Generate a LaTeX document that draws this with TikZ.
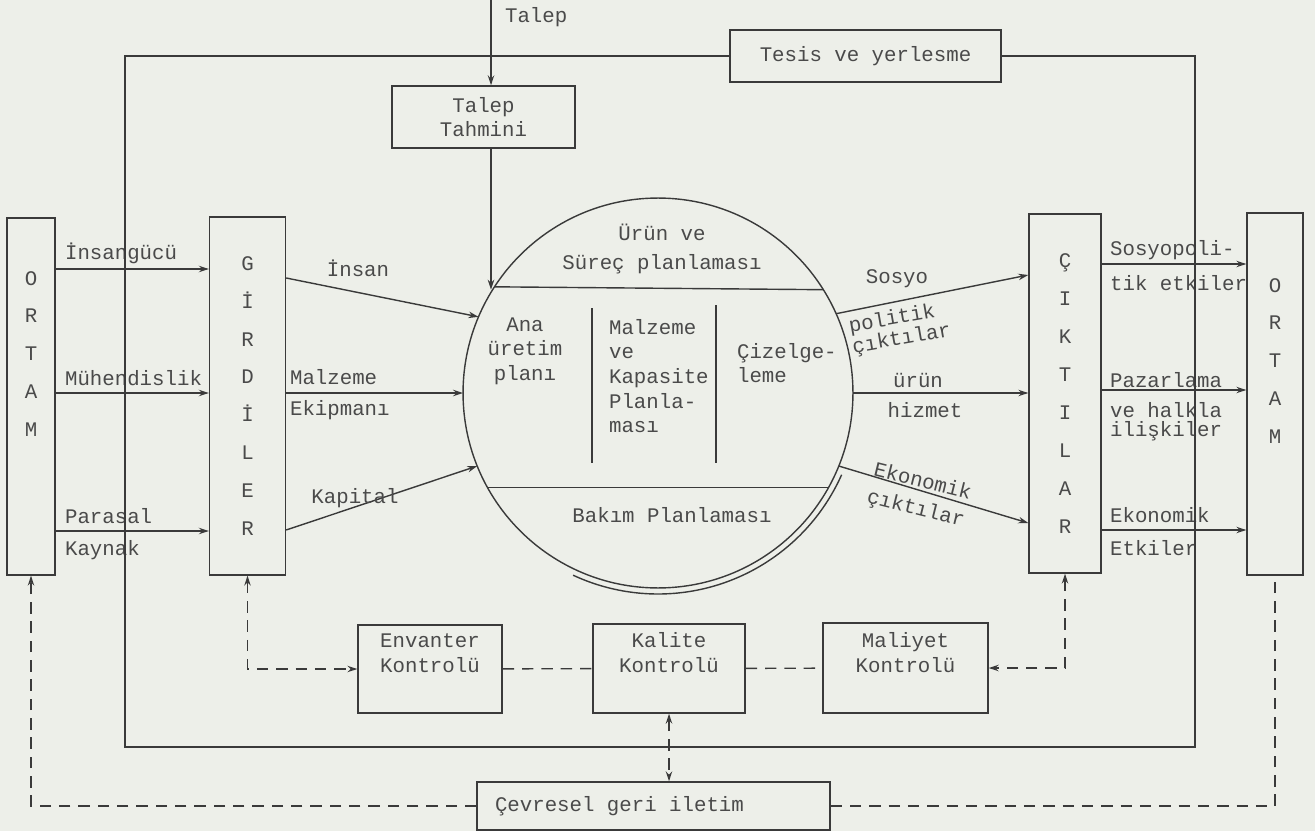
\documentclass[tikz,border=0pt]{standalone}
\usepackage{fontspec}
\usepackage{xcolor}
\usepackage{tikz}
\usetikzlibrary{arrows.meta, positioning, calc}
\newfontfamily\typew{Liberation Mono}
\definecolor{ink}{HTML}{3A3A3A}
\definecolor{txtgray}{HTML}{4A4A4A}
\definecolor{paper}{HTML}{EDEFE9}

\begin{document}
\begin{tikzpicture}[
  x=0.02cm, y=-0.02cm,
  wire/.style={draw=ink, line width=0.8pt},
  box/.style={rectangle, wire, inner sep=2pt, font=\typew\fontsize{11.8}{14}\selectfont,
    text=txtgray, align=center},
  colbox/.style={rectangle, wire, minimum width=#1, minimum height=7.16cm},
  letters/.style={font=\typew\fontsize{11.8}{21.6}\selectfont, text=txtgray, align=center, inner sep=0pt},
  lbl/.style={font=\typew\fontsize{11.8}{14}\selectfont, text=txtgray, inner sep=1pt},
  arr/.style={wire, -{Stealth[length=2mm, width=1.3mm]}},
  both/.style={wire, {Stealth[length=2mm, width=1.3mm]}-{Stealth[length=2mm, width=1.3mm]}},
  fb/.style={dash pattern=on 6.5pt off 4.5pt},
]
  \fill[paper] (0,0) rectangle (1315,831);
  \useasboundingbox (0,0) rectangle (1315,831);

  % environment and the two columns
  \node[colbox=0.96cm, minimum height=7.14cm] (ortamL) at (31,396.5) {};
  \node[letters] (ortamLtx) at (31,354) {O\\R\\T\\A\\M};
  \node[colbox=1.52cm] (girdi) at (247.5,396) {};
  \node[letters] (girdiTx) at (girdi) {G\\İ\\R\\D\\İ\\L\\E\\R};
  \node[colbox=1.44cm, minimum height=7.18cm] (cikti) at (1065,393.5) {};
  \node[letters] (ciktiTx) at (cikti) {Ç\\I\\K\\T\\I\\L\\A\\R};
  \node[colbox=1.12cm, minimum height=7.24cm] (ortamR) at (1275,394) {};
  \node[letters] (ortamRtx) at (1275,361) {O\\R\\T\\A\\M};

  % top boxes
  \node[box, minimum width=3.66cm, minimum height=1.24cm] (tahmin) at (483.5,117) {Talep\\Tahmini};
  \node[box, minimum width=5.42cm, minimum height=1.04cm] (tesis) at (865.5,56) {Tesis ve yerlesme};
  \coordinate (talepIn) at (491,0);
  \node[lbl, anchor=west] (talepLbl) at (503,17) {Talep};

  % planning circle
  \node[circle, wire, minimum size=7.8cm, inner sep=0pt, outer sep=0pt] (plan) at (658,393) {};
  \draw[wire] ($(plan.center)+(24:201)$) arc[start angle=24, end angle=115, radius=201];
  \draw[wire] (plan.147.1) -- (plan.32.9);
  \draw[wire] (plan.209.2) -- (plan.-29.2);
  \draw[wire] ($(plan.center)+(-66,-85)$) -- ($(plan.center)+(-66,70)$);
  \draw[wire] ($(plan.center)+(58,-88)$) -- ($(plan.center)+(58,70)$);
  \node[lbl, align=center] (urun) at (662,249) {Ürün ve\\[2pt]Süreç planlaması};
  \node[lbl, align=center] (anaplan) at (525,351) {Ana\\üretim\\planı};
  \node[lbl, align=left, anchor=west] (malzplan) at (607,376) {Malzeme\\ve\\Kapasite\\Planla-\\ması};
  \node[lbl, align=left, anchor=west] (cizelge) at (735,363) {Çizelge-\\leme};
  \node[lbl] (bakim) at (672,515) {Bakım Planlaması};

  % inputs
  \coordinate (r1) at (0,269);
  \coordinate (r2) at (0,393);
  \coordinate (r3) at (0,531);
  \draw[arr] (ortamL.east |- r1) -- (girdi.west |- r1);
  \draw[arr] (ortamL.east |- r2) -- (girdi.west |- r2);
  \draw[arr] (ortamL.east |- r3) -- (girdi.west |- r3);
  \node[lbl, anchor=west] (lbInsan) at (63,253) {İnsangücü};
  \node[lbl, anchor=west] (lbMuh) at (63,378) {Mühendislik};
  \node[lbl, anchor=west] (lbPara) at (63,516) {Parasal};
  \node[lbl, anchor=west] (lbKay) at (63,550) {Kaynak};

  \coordinate (s1) at (0,278);
  \coordinate (s3) at (0,530);
  \draw[arr] (girdi.east |- s1) -- (plan.157);
  \draw[arr] (girdi.east |- r2) -- (plan.west);
  \draw[arr] (girdi.east |- s3) -- (plan.202);
  \node[lbl] (lbIns2) at (358,268) {İnsan};
  \node[lbl, anchor=west] (lbMalz) at (288,377) {Malzeme};
  \node[lbl, anchor=west] (lbEkip) at (288,410) {Ekipmanı};
  \node[lbl] (lbKap) at (355,498) {Kapital};

  % outputs
  \coordinate (q1) at (0,275);
  \coordinate (q3) at (0,523);
  \draw[arr] (plan.24) -- (cikti.west |- q1);
  \draw[arr] (plan.east) -- (cikti.west |- plan.east);
  \draw[arr] (plan.-22) -- (cikti.west |- q3);
  \node[lbl] (lbSos) at (897,279) {Sosyo};
  \node[lbl, rotate=10, align=left, font=\typew\fontsize{11.8}{9.5}\selectfont] (lbPol) at (900,329) {politik\\çıktılar};
  \node[lbl] (lbUrun) at (918,380) {ürün};
  \node[lbl] (lbHiz) at (925,410) {hizmet};
  \node[lbl, rotate=-14, align=left, font=\typew\fontsize{11.8}{16}\selectfont] (lbEko) at (919,496) {Ekonomik\\çıktılar};

  \coordinate (t1) at (0,264);
  \coordinate (t2) at (0,390);
  \coordinate (t3) at (0,530);
  \draw[arr] (cikti.east |- t1) -- (ortamR.west |- t1);
  \draw[arr] (cikti.east |- t2) -- (ortamR.west |- t2);
  \draw[arr] (cikti.east |- t3) -- (ortamR.west |- t3);
  \node[lbl, anchor=west] (lbSp1) at (1108,250) {Sosyopoli-};
  \node[lbl, anchor=west] (lbSp2) at (1108,283) {tik etkiler};
  \node[lbl, anchor=west] (lbPaz) at (1108,380) {Pazarlama};
  \node[lbl, anchor=west] (lbHal) at (1108,410) {ve halkla};
  \node[lbl, anchor=west] (lbIli) at (1108,431) {ilişkiler};
  \node[lbl, anchor=west] (lbEk1) at (1108,515) {Ekonomik};
  \node[lbl, anchor=west] (lbEk2) at (1108,548) {Etkiler};

  % outer solid loop
  \coordinate (loopNW) at (125,56);
  \coordinate (loopSW) at (125,747);
  \coordinate (loopSE) at (1195,747);
  \coordinate (loopNE) at (1195,56);
  \draw[wire] (tesis.west) -- (loopNW) -- (loopSW) -- (loopSE) -- (loopNE) -- (tesis.east);

  % demand
  \draw[arr] (talepIn) -- (talepIn |- tahmin.north);
  \draw[arr] (talepIn |- tahmin.south) -- (talepIn |- plan.32.9);

  % control boxes
  \node[box, minimum width=2.88cm, minimum height=1.76cm] (envanter) at (430,669) {Envanter\\Kontrolü\\[4pt]\mbox{}};
  \node[box, minimum width=3.04cm, minimum height=1.78cm] (kalite) at (669,668.5) {Kalite\\Kontrolü\\[4pt]\mbox{}};
  \node[box, minimum width=3.3cm, minimum height=1.8cm] (maliyet) at (905.5,668) {Maliyet\\Kontrolü\\[4pt]\mbox{}};
  \node[box, minimum width=7.06cm, minimum height=0.96cm, inner xsep=0.36cm]
    (cevre) at (653.5,806) {\makebox[6.34cm][l]{Çevresel geri iletim}};

  % feedback (dashed)
  \draw[arr, fb] (cevre.west) -- (cevre.west -| ortamL.south) -- (ortamL.south);
  \draw[wire, fb] (cevre.east) -- (cevre.east -| ortamR.south) -- (ortamR.south);
  \draw[both, fb] (girdi.south) -- (girdi.south |- envanter.west) -- (envanter.west);
  \draw[wire, fb] (envanter) -- (kalite);
  \draw[wire, fb] (kalite) -- (maliyet);
  \draw[both, fb] (cikti.south) -- (cikti.south |- maliyet.east) -- (maliyet.east);
  \draw[both, fb] (kalite.south) -- (kalite.south |- cevre.north);
\end{tikzpicture}
\end{document}
